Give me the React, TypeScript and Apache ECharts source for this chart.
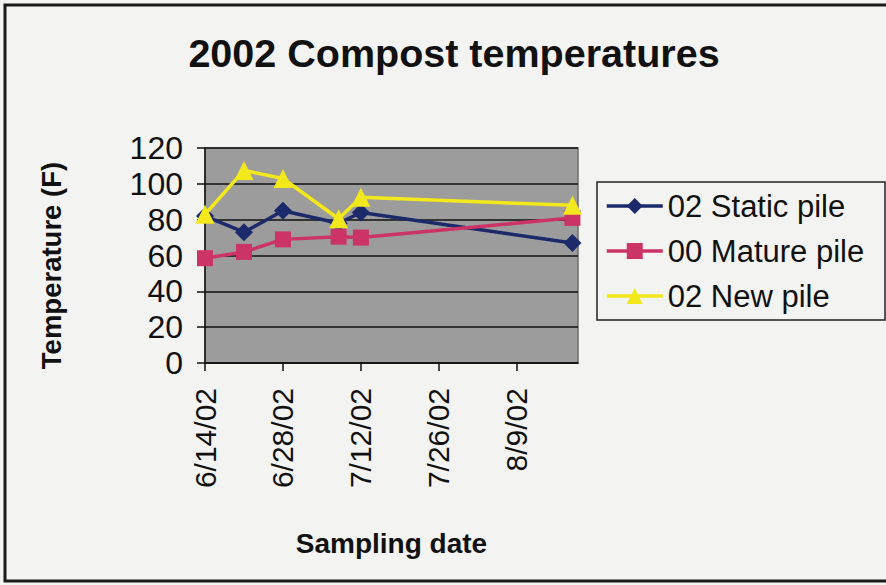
import React, { useEffect, useRef } from "react";
import * as echarts from "echarts";

const dates = ["2002-06-14", "2002-06-21", "2002-06-28", "2002-07-08", "2002-07-12", "2002-08-19"];
const staticPile = [82, 73, 85, 78, 84, 67];
const maturePile = [58.5, 62, 69, 70.5, 70, 81];
const newPile = [83, 107.5, 103, 80.5, 92.5, 88];
const xTickDates = ["2002-06-14", "2002-06-28", "2002-07-12", "2002-07-26", "2002-08-09"];
const axisEndDate = "2002-08-20";
const yTicks = [0, 20, 40, 60, 80, 100, 120];

const DAY = 86400000;
const toMs = (s: string) => {
  const [y, m, d] = s.split("-").map(Number);
  return Date.UTC(y, m - 1, d);
};
const t0 = toMs(dates[0]);
const toDay = (s: string) => Math.round((toMs(s) - t0) / DAY);
const fmt = (day: number) => {
  const dt = new Date(t0 + day * DAY);
  return `${dt.getUTCMonth() + 1}/${dt.getUTCDate()}/${String(dt.getUTCFullYear()).slice(2)}`;
};

const FONT = "'Liberation Sans', Arial, sans-serif";

export default function App() {
  const ref = useRef<HTMLDivElement>(null);
  useEffect(() => {
    if (!ref.current) return;
    const chart = echarts.init(ref.current, undefined, { renderer: "svg" });
    const xs = dates.map(toDay);
    const mk = (vals: number[]) => vals.map((v, i) => [xs[i], v]);
    const tickDays = xTickDates.map(toDay);
    chart.setOption({
      animation: false,
      backgroundColor: "#f3f3f2",
      textStyle: { fontFamily: FONT },
      title: {
        text: "2002 Compost temperatures",
        left: 449,
        top: 28,
        textAlign: "center",
        textStyle: { fontFamily: FONT, fontWeight: "bold", fontSize: 39.5, color: "#111" },
      },
      legend: {
        orient: "vertical",
        left: 605,
        top: 190,
        itemWidth: 56,
        itemHeight: 20,
        itemGap: 13,
        padding: 0,
        textStyle: { fontFamily: FONT, fontSize: 31, color: "#111", lineHeight: 32 },
        lineStyle: { width: 3.5 },
        data: ["02 Static pile", "00 Mature pile", "02 New pile"],
      },
      graphic: [
        {
          type: "rect",
          shape: { x: 5, y: 5, width: 900, height: 576 },
          style: { fill: "none", stroke: "#1a1a1a", lineWidth: 3 },
          silent: true,
        },
        {
          type: "rect",
          shape: { x: 597, y: 182, width: 288, height: 138 },
          style: { fill: "none", stroke: "#222", lineWidth: 1.5 },
          silent: true,
        },
      ],
      grid: {
        left: 205,
        top: 148,
        right: 886 - 578,
        bottom: 585 - 363,
        show: true,
        backgroundColor: "#9c9c9c",
        borderColor: "#6e6e6e",
        borderWidth: 1.5,
      },
      xAxis: {
        type: "value",
        min: 0,
        max: toDay(axisEndDate),
        name: "Sampling date",
        nameLocation: "middle",
        nameGap: 166,
        nameTextStyle: { fontFamily: FONT, fontWeight: "bold", fontSize: 28, color: "#111" },
        axisLine: { show: true, lineStyle: { color: "#111", width: 1.5 } },
        axisTick: { show: true, length: 8, customValues: tickDays, lineStyle: { color: "#111", width: 1.5 } },
        axisLabel: {
          customValues: tickDays,
          rotate: 90,
          margin: 25,
          fontSize: 30,
          color: "#111",
          fontFamily: FONT,
          formatter: (v: number) => fmt(v),
        },
        splitLine: { show: false },
      },
      yAxis: {
        type: "value",
        min: 0,
        max: 120,
        interval: 20,
        name: "Temperature (F)",
        nameLocation: "middle",
        nameGap: 140,
        nameTextStyle: {
          fontFamily: FONT,
          fontWeight: "bold",
          fontSize: 27.5,
          color: "#111",
          padding: [0, 20, 0, 0],
        },
        axisLine: { show: true, lineStyle: { color: "#111", width: 1.5 } },
        axisTick: { show: true, length: 8, lineStyle: { color: "#111", width: 1.5 } },
        axisLabel: {
          margin: 22,
          fontSize: 32,
          color: "#111",
          fontFamily: FONT,
          formatter: (v: number) => (yTicks.includes(v) ? String(v) : ""),
        },
        splitLine: { show: true, lineStyle: { color: "#111", width: 1.5 } },
      },
      series: [
        {
          name: "02 Static pile",
          type: "line",
          data: mk(staticPile),
          symbol: "diamond",
          symbolSize: 18,
          lineStyle: { color: "#1c2a6b", width: 3.5 },
          itemStyle: { color: "#1c2a6b" },
          z: 2,
        },
        {
          name: "00 Mature pile",
          type: "line",
          data: mk(maturePile),
          symbol: "rect",
          symbolSize: 16,
          lineStyle: { color: "#cc3366", width: 3.5 },
          itemStyle: { color: "#cc3366" },
          z: 3,
        },
        {
          name: "02 New pile",
          type: "line",
          data: mk(newPile),
          symbol: "triangle",
          symbolSize: 19,
          lineStyle: { color: "#f2e81c", width: 3.5 },
          itemStyle: { color: "#f2e81c" },
          z: 4,
        },
      ],
    });
    return () => chart.dispose();
  }, []);
  return (
    <div
      ref={ref}
      style={{ position: "fixed", left: 0, top: 0, width: 886, height: 585 }}
    />
  );
}
